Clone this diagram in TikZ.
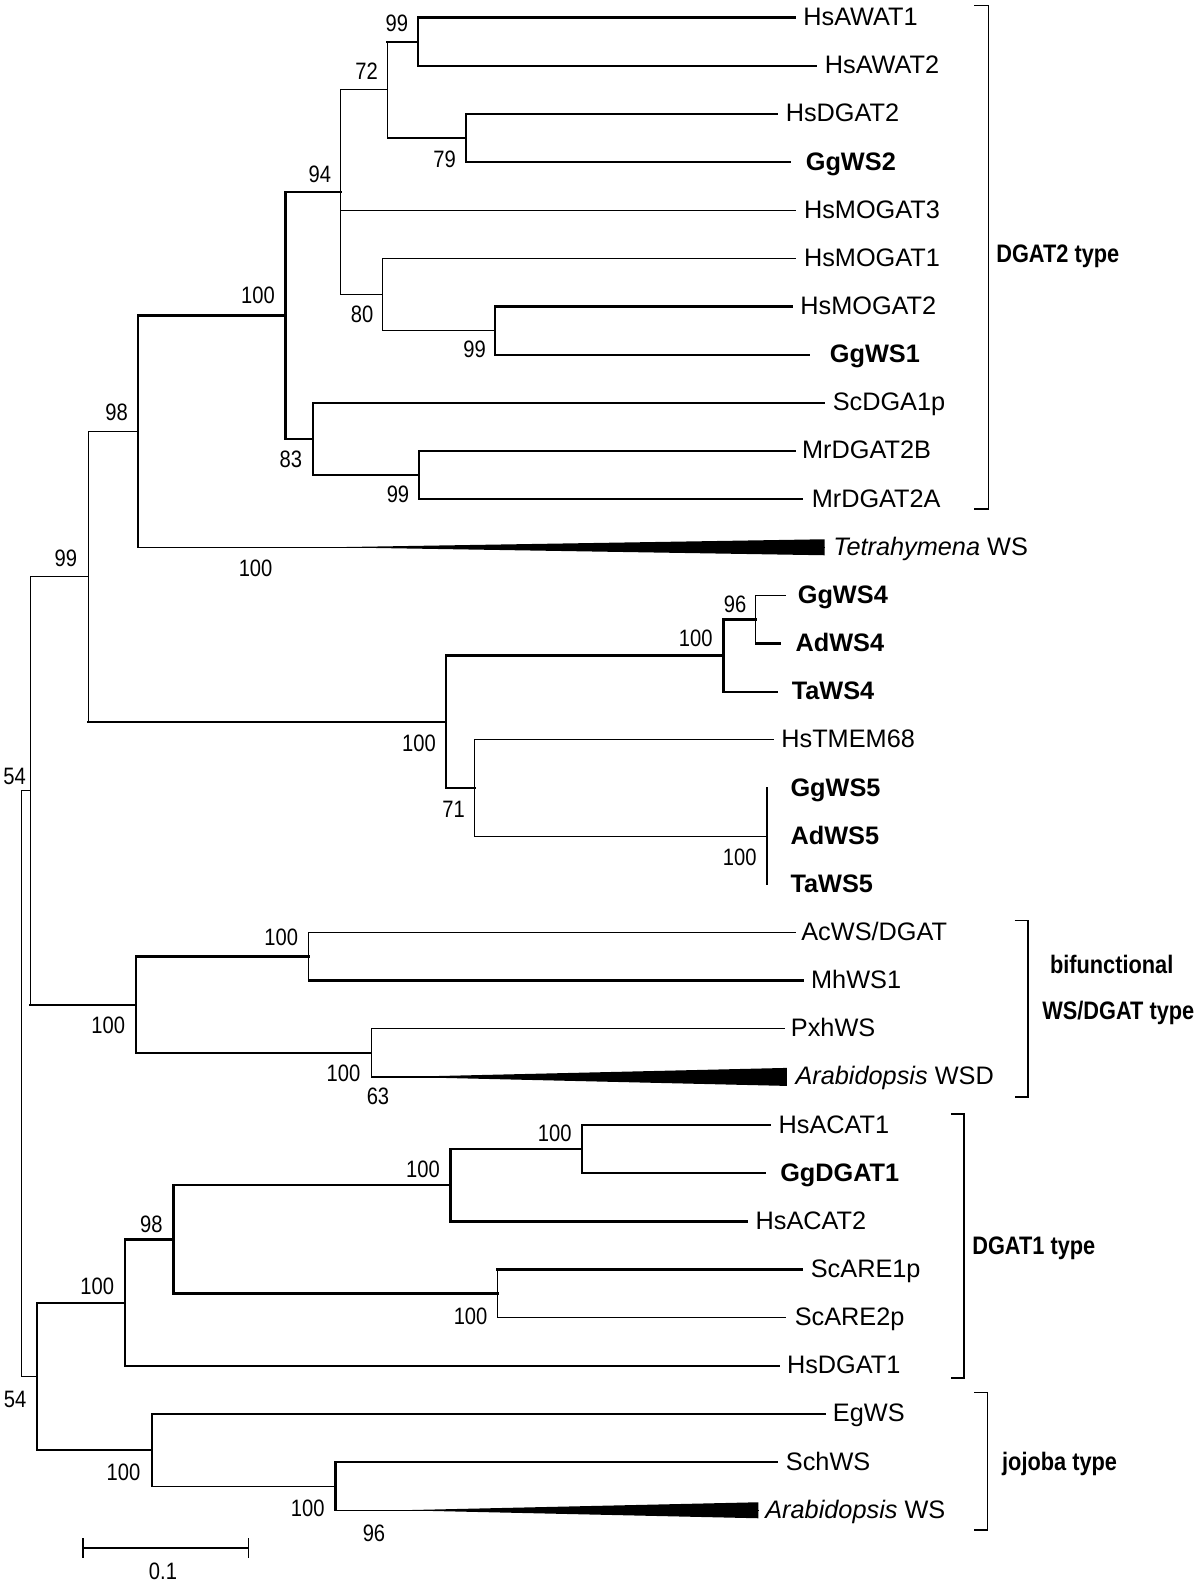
\documentclass[tikz,border=0pt]{standalone}
\usepackage{fontspec}
\setmainfont{Liberation Sans}
\newfontfamily\bootfont{Liberation Sans}[FakeStretch=0.85]
\newfontfamily\groupfont{Liberation Sans}[FakeStretch=0.86]
\usepackage{tikz}
\usetikzlibrary{calc}

\begin{document}
\begin{tikzpicture}[
    x=0.02cm, y=-0.02cm,
    declare function={ry(\r)=17.6+48.15*\r;},
    branch/.style={line width=0.7pt, line cap=rect},
    boldbranch/.style={line width=1.3pt, line cap=rect},
    leaf/.style={anchor=base west, inner sep=0pt, font=\fontsize{14.4}{16}\selectfont},
    boot/.style={inner sep=0pt, font=\bootfont\fontsize{13.5}{15}\selectfont},
    group/.style={anchor=base west, inner sep=0pt, font=\groupfont\bfseries\fontsize{14.4}{16}\selectfont},
    bracket/.style={line width=1pt},
    wedge/.style={fill=black}
]
\useasboundingbox (0,0) rectangle (1200,1587);

% Leaves: tip of the branch and its label
\foreach \nm/\row/\tx/\lx/\txt in {
    HsAWATa/0/795.2/803/HsAWAT1, HsAWATb/1/816.2/824.5/HsAWAT2,
    HsDGATb/2/776.8/785.4/HsDGAT2, GgWSb/3/790.2/805.5/\textbf{GgWS2},
    HsMOGATc/4/795.2/803.7/HsMOGAT3, HsMOGATa/5/795.2/803.7/HsMOGAT1,
    HsMOGATb/6/791.4/800/HsMOGAT2, GgWSa/7/808.6/829.6/\textbf{GgWS1},
    ScDGA/8/823.9/832.4/ScDGA1p, MrDGATb/9/794.4/801.8/MrDGAT2B,
    MrDGATa/10/802/811.4/MrDGAT2A, Tetra/11/824.5/833/{\textit{Tetrahymena} WS},
    GgWSd/12/785.6/797.5/\textbf{GgWS4}, AdWSd/13/779.9/795.2/\textbf{AdWS4},
    TaWSd/14/776.8/791.4/\textbf{TaWS4}, HsTMEM/15/773/781/HsTMEM68,
    GgWSe/16/767.2/790.2/\textbf{GgWS5}, AdWSe/17/767.2/790.2/\textbf{AdWS5},
    TaWSe/18/767.2/790.2/\textbf{TaWS5}, AcWS/19/795.2/801/{AcWS/DGAT},
    MhWS/20/802.8/810.8/MhWS1, PxhWS/21/784.5/790.6/PxhWS,
    AtWSD/22/786.8/795.2/{\textit{Arabidopsis} WSD},
    HsACATa/23/769.5/778.3/HsACAT1, GgDGATa/24/764.6/779.9/\textbf{GgDGAT1},
    HsACATb/25/747.3/755.3/HsACAT2, ScAREa/26/801.7/810.5/ScARE1p,
    ScAREb/27/785.6/794.4/ScARE2p, HsDGATa/28/779.1/786.7/HsDGAT1,
    EgWS/29/825/832.6/EgWS, SchWS/30/776.8/785.6/SchWS,
    AtWS/31/758.3/765/{\textit{Arabidopsis} WS}}{
    \coordinate (t\nm) at (\tx, {ry(\row)});
    \node[leaf] (\nm) at (\lx, {ry(\row)+8}) {\txt};
}

% Internal nodes
\coordinate (nAWAT) at (418.3,{ry(0.5)});
\coordinate (n79) at (465.7,{ry(2.5)});
\coordinate (n72) at (387.3,{ry(1.5)});
\coordinate (nMOGAT2) at (495.2,{ry(6.5)});
\coordinate (n80) at (382.7,{ry(5.75)});
\coordinate (n94) at (340.6,{ry(3.625)});
\coordinate (nMr) at (419,{ry(9.5)});
\coordinate (n83) at (313,{ry(8.75)});
\coordinate (n100a) at (285.5,{ry(6.1875)});
\coordinate (n98) at (137.8,{ry(8.594)});
\coordinate (n96) at (755.8,{ry(12.5)});
\coordinate (nWS4) at (723.6,{ry(13.25)});
\coordinate (nWS5) at (767.2,{ry(17)});
\coordinate (n71) at (474.5,{ry(16)});
\coordinate (nWS45) at (446.2,{ry(14.625)});
\coordinate (n99b) at (88.4,{ry(11.61)});
\coordinate (nAc) at (308.8,{ry(19.5)});
\coordinate (nPxh) at (371.2,{ry(21.5)});
\coordinate (nBif) at (135.9,{ry(20.5)});
\coordinate (n54a) at (30.6,{ry(16.055)});
\coordinate (nACAT1) at (581.7,{ry(23.5)});
\coordinate (nACAT) at (450.4,{ry(24.25)});
\coordinate (nARE) at (497.5,{ry(26.5)});
\coordinate (n98b) at (173.4,{ry(25.375)});
\coordinate (nDGAT1) at (125.1,{ry(26.69)});
\coordinate (nSch) at (335.6,{ry(30.5)});
\coordinate (nJoj) at (151.9,{ry(29.75)});
\coordinate (n54b) at (37.1,{ry(28.22)});
\coordinate (root) at (21.8,{ry(22.14)});

% DGAT2 type clade
\draw[boldbranch] (tHsAWATa) -| (nAWAT) |- (tHsAWATb);
\draw[boldbranch] (tHsDGATb) -| (n79) |- (tGgWSb);
\draw[branch] (nAWAT) -| (n72) |- (n79);
\draw[boldbranch] (n72 |- nAWAT) -- (nAWAT);
\draw[boldbranch] (tHsMOGATb) -| (nMOGAT2) |- (tGgWSa);
\draw[branch] (tHsMOGATa) -| (n80) |- (nMOGAT2);
\draw[branch] (n72) -| (n94) |- (n80);
\draw[branch] (n94 |- tHsMOGATc) -- (tHsMOGATc);
\draw[boldbranch] (tMrDGATb) -| (nMr) |- (tMrDGATa);
\draw[branch] (n83 |- tScDGA) -- (n83 |- nMr);
\draw[boldbranch] (n83 |- tScDGA) -- (tScDGA);
\draw[boldbranch] (n83 |- nMr) -- (nMr);
\draw[boldbranch] (n94) -| (n100a) -- (n100a |- n83);
\draw[branch] (n100a |- n83) -- (n83);
\draw[boldbranch] (n100a) -| (n98) -- (n98 |- tTetra);
\draw[branch] (n98 |- tTetra) -- (tTetra);
\fill[wedge] ($(tTetra)+(-494,0)$) -- ($(tTetra)+(0,-8)$) -- ($(tTetra)+(0,8)$) -- cycle;

% WS4 and WS5
\draw[branch] (tGgWSd) -| (n96) -- (n96 |- tAdWSd);
\draw[boldbranch] (n96 |- tAdWSd) -- (tAdWSd);
\draw[boldbranch] (n96) -| (nWS4) |- (tTaWSd);
\draw[boldbranch] (nWS5 |- tGgWSe) -- (nWS5 |- tTaWSe);
\draw[branch] (tHsTMEM) -| (n71) |- (nWS5);
\draw[boldbranch] (nWS4) -| (nWS45) |- (n71);
\draw[branch] (n98) -| (n99b) -- (n99b |- nWS45);
\draw[boldbranch] (n99b |- nWS45) -- (nWS45);

% bifunctional WS/DGAT type
\draw[branch] (tAcWS) -| (nAc) -- (nAc |- tMhWS);
\draw[boldbranch] (nAc |- tMhWS) -- (tMhWS);
\draw[branch] (tPxhWS) -| (nPxh) |- (tAtWSD);
\fill[wedge] ($(tAtWSD)+(-387,0)$) -- ($(tAtWSD)+(0,-9)$) -- ($(tAtWSD)+(0,9)$) -- cycle;
\draw[boldbranch] (nAc) -| (nBif) |- (nPxh);
\draw[branch] (n99b) -| (n54a) -- (n54a |- nBif);
\draw[boldbranch] (n54a |- nBif) -- (nBif);

% DGAT1 type
\draw[boldbranch] (tHsACATa) -| (nACAT1) |- (tGgDGATa);
\draw[boldbranch] (nACAT1) -| (nACAT) |- (tHsACATb);
\draw[branch] (tScAREb) -| (nARE) -- (nARE |- tScAREa);
\draw[boldbranch] (nARE |- tScAREa) -- (tScAREa);
\draw[boldbranch] (nACAT) -| (n98b) |- (nARE);
\draw[boldbranch] (n98b) -| (nDGAT1) |- (tHsDGATa);

% jojoba type
\draw[boldbranch] (tSchWS) -| (nSch) -- (nSch |- tAtWS);
\draw[branch] (nSch |- tAtWS) -- (tAtWS);
\fill[wedge] ($(tAtWS)+(-358,0)$) -- ($(tAtWS)+(0,-8)$) -- ($(tAtWS)+(0,8)$) -- cycle;
\draw[branch] (tEgWS) -| (nJoj) |- (nSch);
\draw[boldbranch] (nDGAT1) -| (n54b) |- (nJoj);

% Root
\draw[branch] (n54a) -| (root) |- (n54b);

% Bootstrap values
\foreach \nm/\x/\y/\v in {
    AWAT/396.9/23.2/99, 72/366.6/71.4/72, 79/444.7/158.9/79, 94/319.9/173.9/94,
    100a/257.9/295.7/100, 80/362/314.3/80, MOGAT2/474.5/349.3/99, 98/116.7/412.5/98,
    83/290.9/458.9/83, Mr/398/493.9/99, 99b/65.8/557.9/99, Tetra/255.6/567.9/100,
    54a/14.6/776.3/54, WS45/419/743.6/100, 71/453.5/809.8/71, 96/735/604/96,
    WS4/695.8/638.3/100, WS5/739.7/857.5/100, Ac/281.3/937.8/100, Bif/108.3/1025.4/100,
    Pxh/343.5/1073.3/100, AtWSD/378/1096.5/63, ACAT1/554.7/1133.5/100,
    ACAT/423/1169.5/100, 98b/151.3/1224/98, ARE/470.6/1316/100,
    DGAT1/97.3/1286.5/100, 54b/15.2/1399/54, Joj/123.5/1472/100,
    Sch/307.8/1508/100, AtWS/374/1533.5/96}{
    \node[boot] (b\nm) at (\x,\y) {\v};
}

% Groups
\draw[bracket] (974.3,5.5) -- (988.4,5.5) -- (988.4,509) -- (974.3,509);
\node[group] (gDGAT2) at (996,262.5) {DGAT2 type};
\draw[bracket] (1014.5,920.4) -- (1027.9,920.4) -- (1027.9,1097) -- (1014.5,1097);
\node[group] (gBifa) at (1049.7,973.9) {bifunctional};
\node[group] (gBifb) at (1042,1019.3) {WS/DGAT type};
\draw[bracket] (950.8,1114) -- (964.3,1114) -- (964.3,1378) -- (950.8,1378);
\node[group] (gDGAT1) at (972,1254) {DGAT1 type};
\draw[bracket] (974.3,1392.5) -- (987.5,1392.5) -- (987.5,1530) -- (974.3,1530);
\node[group] (gJoj) at (1001.8,1470.5) {jojoba type};

% Scale bar
\coordinate (sbl) at (83,1548);
\coordinate (sbr) at (248.8,1548);
\draw[branch] (sbl) -- (sbr);
\draw[branch] ($(sbl)+(0,-9)$) -- ($(sbl)+(0,9)$);
\draw[branch] ($(sbr)+(0,-9)$) -- ($(sbr)+(0,9)$);
\node[boot] (scale) at (163,1571) {0.1};

\end{tikzpicture}
\end{document}
